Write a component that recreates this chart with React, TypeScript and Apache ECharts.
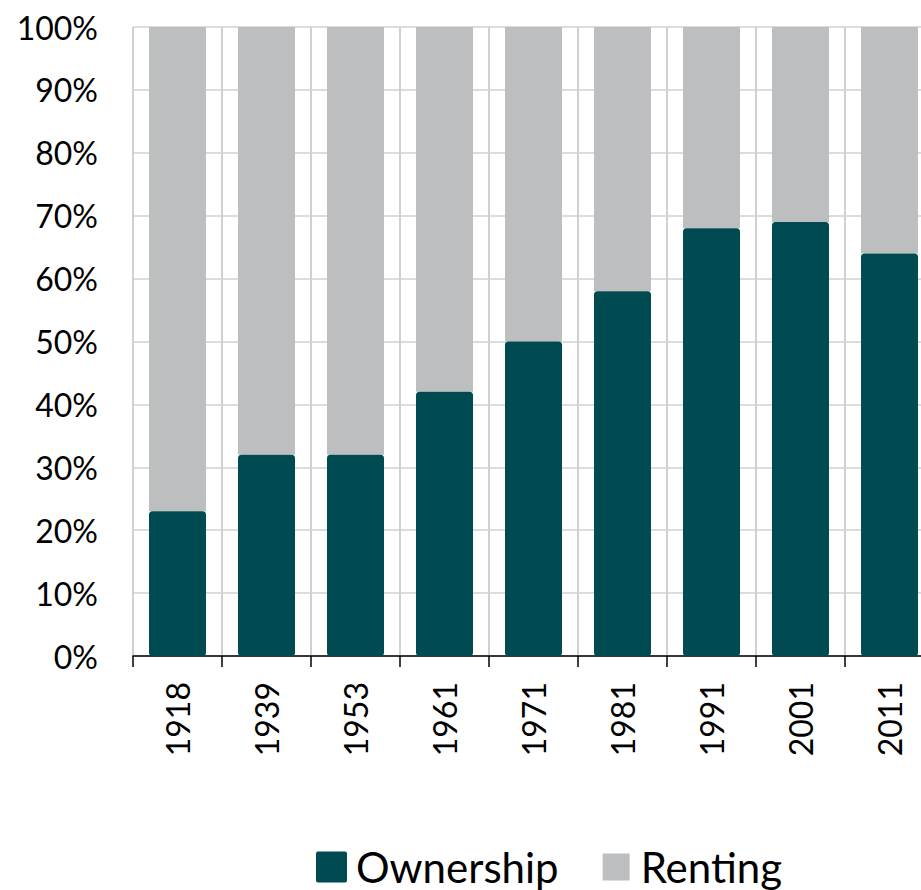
import React, { useEffect, useRef } from "react";
import * as echarts from "echarts";

const years = ["1918", "1939", "1953", "1961", "1971", "1981", "1991", "2001", "2011"];
const ownership = [23, 32, 32, 42, 50, 58, 68, 69, 64];
const renting = [77, 68, 68, 58, 50, 42, 32, 31, 36];
const yTicks = [0, 10, 20, 30, 40, 50, 60, 70, 80, 90, 100];

const TEAL = "#004A51";
const GRAY = "#BDBEC0";
const FONT = "Lato";

export default function App() {
  const ref = useRef<HTMLDivElement>(null);
  useEffect(() => {
    if (!ref.current) return;
    const chart = echarts.init(ref.current, undefined, { renderer: "svg" });
    chart.setOption({
      animation: false,
      backgroundColor: "#ffffff",
      grid: { left: 133, top: 27, bottom: 234, right: 0, containLabel: false },
      legend: {
        left: 311,
        top: 841,
        itemWidth: 27,
        itemHeight: 27,
        itemGap: 44,
        icon: "rect",
        textStyle: { fontFamily: FONT, fontSize: 42, color: "#000", lineHeight: 40, padding: [0, 0, 0, 6] },
        data: [
          { name: "Ownership", itemStyle: { color: TEAL, borderColor: TEAL, borderWidth: 4, borderJoin: "round" } },
          { name: "Renting", itemStyle: { color: GRAY, borderWidth: 0 } },
        ],
      },
      xAxis: {
        type: "category",
        data: years,
        boundaryGap: true,
        axisLine: { show: true, lineStyle: { color: "#000", width: 1.5 } },
        axisTick: { show: true, length: 11, lineStyle: { color: "#000", width: 1.5 } },
        axisLabel: { rotate: 90, margin: 26, fontFamily: FONT, fontSize: 32, color: "#000" },
        splitLine: { show: true, lineStyle: { color: "#D0D0D0", width: 2 } },
      },
      yAxis: {
        type: "value",
        min: yTicks[0],
        max: yTicks[yTicks.length - 1],
        interval: 10,
        axisLine: { show: false },
        axisTick: { show: false },
        axisLabel: { margin: 35, fontFamily: FONT, fontSize: 32, color: "#000", formatter: "{value}%" },
        splitLine: { show: true, lineStyle: { color: "#DCDCDC", width: 2 } },
      },
      series: [
        {
          name: "Ownership",
          type: "bar",
          stack: "total",
          barWidth: 57,
          z: 3,
          data: ownership,
          itemStyle: { color: TEAL, borderColor: TEAL, borderWidth: 7, borderJoin: "round" },
        },
        {
          name: "Renting",
          type: "bar",
          stack: "total",
          barWidth: 57,
          z: 2,
          data: renting,
          itemStyle: { color: GRAY },
        },
      ],
    });
    return () => chart.dispose();
  }, []);
  return (
    <div style={{ position: "fixed", left: 0, top: 0, width: 921, height: 890, overflow: "hidden", background: "#fff" }}>
      <div ref={ref} style={{ position: "absolute", left: 0, top: 0, width: 934, height: 890 }} />
    </div>
  );
}
